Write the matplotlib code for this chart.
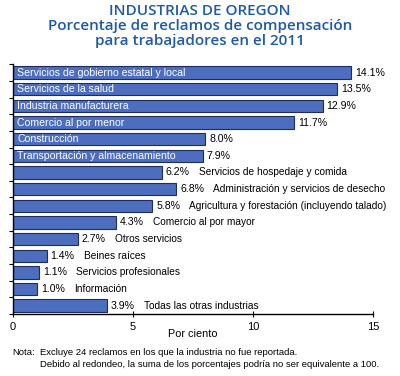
import matplotlib.pyplot as plt

# data
industrias = ["Servicios de gobierno estatal y local", "Servicios de la salud",
              "Industria manufacturera", "Comercio al por menor", "Construcción",
              "Transportación y almacenamiento", "Servicios de hospedaje y comida",
              "Administración y servicios de desecho",
              "Agricultura y forestación (incluyendo talado)", "Comercio al por mayor",
              "Otros servicios", "Beines raíces", "Servicios profesionales",
              "Información", "Todas las otras industrias"]
porcentajes = [14.1, 13.5, 12.9, 11.7, 8.0, 7.9, 6.2, 6.8, 5.8, 4.3, 2.7, 1.4, 1.1, 1.0, 3.9]
dentro = [True] * 6 + [False] * 9  # label drawn inside the bar

bar_color = "#4d6dbf"
edge_color = "#1f2d5c"
title_color = "#1f5aa6"

fig = plt.figure(figsize=(4, 3.76), dpi=100)
ax = fig.add_axes([0.0325, 0.165, 0.9, 0.664])

y = list(range(len(industrias)))
ax.barh(y, porcentajes, height=0.74, color=bar_color, edgecolor=edge_color, linewidth=0.8)
ax.set_ylim(len(industrias) - 0.5, -0.5)
ax.set_xlim(0, 15)

for i, (name, v, inside) in enumerate(zip(industrias, porcentajes, dentro)):
    ax.annotate(f"{v:.1f}%", (v, i), xytext=(4, 0), textcoords="offset pixels",
                va="center", ha="left", fontsize=7.6, family="Liberation Sans")
    if inside:
        ax.annotate(name, (0, i), xytext=(4, 0), textcoords="offset pixels",
                    va="center", ha="left", fontsize=7.6, color="white",
                    family="Liberation Sans")
    else:
        ax.annotate(name, (v, i), xytext=(37, 0), textcoords="offset pixels",
                    va="center", ha="left", fontsize=7.3, family="Liberation Sans")

ax.spines["top"].set_visible(False)
ax.spines["right"].set_visible(False)
ax.spines["left"].set_linewidth(1.0)
ax.spines["bottom"].set_linewidth(1.0)
ax.set_yticks([i - 0.5 for i in range(len(industrias) + 1)])
ax.set_yticklabels([])
ax.tick_params(axis="y", length=3, width=0.8)
ax.set_xticks([0, 5, 10, 15])
ax.tick_params(axis="x", direction="inout", length=5, width=0.8, labelsize=8, pad=3)
for t in ax.get_xticklabels():
    t.set_family("Liberation Sans")
ax.set_xlabel("Por ciento", fontsize=7.8, family="Liberation Sans", labelpad=-2)

fig.text(0.5, 0.99, "INDUSTRIAS DE OREGON\nPorcentaje de reclamos de compensación\npara trabajadores en el 2011",
         ha="center", va="top", fontsize=11, color=title_color, family="Open Sans",
         weight="semibold", linespacing=1.12)

fig.text(0.03, 0.063, "Nota:", fontsize=6.8, family="Liberation Sans", va="center")
fig.text(0.1, 0.063, "Excluye 24 reclamos en los que la industria no fue reportada.",
         fontsize=6.8, family="Liberation Sans", va="center")
fig.text(0.1, 0.031, "Debido al redondeo, la suma de los porcentajes podría no ser equivalente a 100.",
         fontsize=6.8, family="Liberation Sans", va="center")

fig.savefig("out.png", dpi=100)
